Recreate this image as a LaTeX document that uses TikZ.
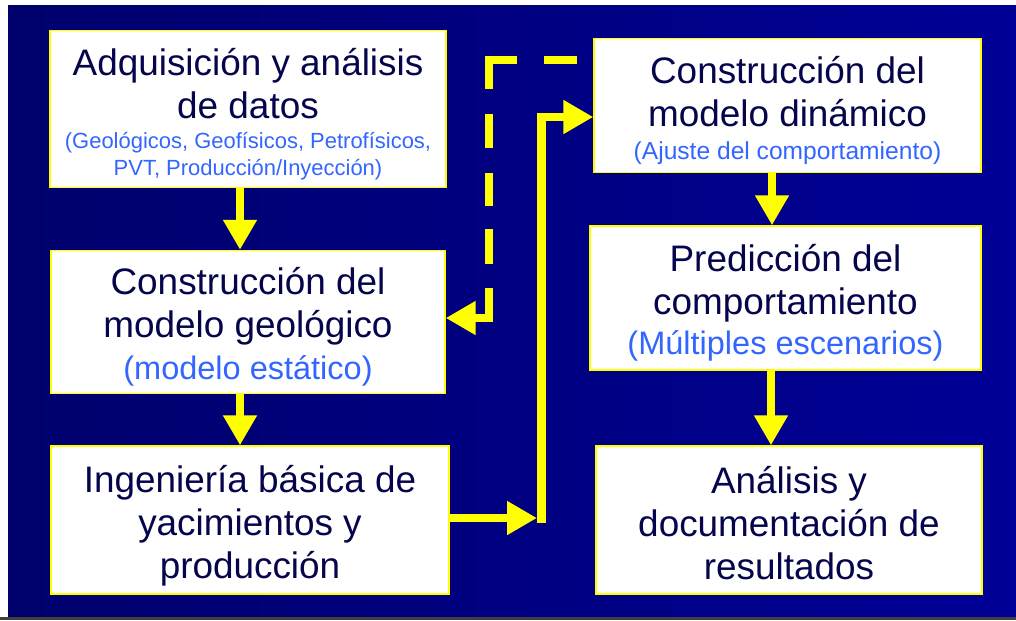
\documentclass[tikz,border=0pt]{standalone}
\usepackage{fontspec}
\setmainfont{Liberation Sans}
\usetikzlibrary{arrows.meta,calc}

\definecolor{navybg}{RGB}{0,0,108}
\definecolor{bluebg}{RGB}{0,0,150}
\definecolor{boxtext}{RGB}{5,5,75}
\definecolor{subblue}{RGB}{51,102,255}
\definecolor{linkyellow}{RGB}{255,255,0}

\newcommand{\subsmall}{\color{subblue}\fontsize{12.5pt}{15pt}\selectfont}
\newcommand{\submid}{\color{subblue}\fontsize{14pt}{17pt}\selectfont}
\newcommand{\subbig}{\color{subblue}\fontsize{18.5pt}{22pt}\selectfont}

\begin{document}
\begin{tikzpicture}[x=0.02cm, y=-0.02cm,
  stagebox/.style={draw=linkyellow, line width=0.85pt, fill=white, inner sep=0pt},
  stagetext/.style={text=boxtext, align=center, inner sep=0pt,
    font=\fontsize{21pt}{24.5pt}\selectfont},
  flow/.style={draw=linkyellow, line width=5.1pt,
    -{Triangle[width=18.2pt,length=17pt]}},
]

  % --- page and slide background ---
  \fill[white] (0,0) rectangle (1016,620);
  \useasboundingbox (0,0) rectangle (1016,620);
  \shade[left color=navybg, right color=bluebg] (8,5) rectangle (1016,617);
  \fill[black!75] (0,617) rectangle (1016,620);

  % --- left column ---
  \node[stagebox, minimum width=7.92cm, minimum height=3.14cm] (adq) at (248,109) {};
  \node[stagetext] (adqtxt) at ($(adq)+(0,5)$)
    {Adquisición y análisis\\de datos\\[-7.5pt]
     {\subsmall (Geológicos, Geofísicos, Petrofísicos,}\\[-9pt]
     {\subsmall PVT, Producción/Inyección)}};
  \node[stagebox, minimum width=7.88cm, minimum height=2.86cm] (geo) at (248,322) {};
  \node[stagetext] (geotxt) at ($(geo)+(0,5)$)
    {Construcción del\\modelo geológico\\[-0.6pt]{\subbig (modelo estático)}};
  \node[stagebox, minimum width=7.96cm, minimum height=2.96cm] (ing) at (250,520) {};
  \node[stagetext] (ingtxt) at ($(ing)+(0,6)$)
    {Ingeniería básica de\\yacimientos y\\producción};

  % --- right column ---
  \node[stagebox, minimum width=7.74cm, minimum height=2.68cm] (dyn) at (787.5,105.5) {};
  \node[stagetext] (dyntxt) at ($(dyn)+(0,5)$)
    {Construcción del\\modelo dinámico\\[-5.7pt]{\submid (Ajuste del comportamiento)}};
  \node[stagebox, minimum width=7.82cm, minimum height=2.88cm] (pred) at (785.5,298) {};
  \node[stagetext] (predtxt) at ($(pred)+(0,5)$)
    {Predicción del\\comportamiento\\[-1.7pt]{\subbig (Múltiples escenarios)}};
  \node[stagebox, minimum width=7.72cm, minimum height=2.96cm] (anal) at (789,520) {};
  \node[stagetext] (analtxt) at ($(anal)+(0,3)$)
    {Análisis y\\documentación de\\resultados};

  % --- straight links ---
  \draw[flow] ($(adq.south)+(-8,0)$) -- ($(geo.north)+(-8,0)$);
  \draw[flow] ($(geo.south)+(-8,0)$) -- ($(ing.north)+(-10,0)$);
  \draw[flow] ($(dyn.south)+(-15.5,0)$) -- ($(pred.north)+(-13.5,0)$);
  \draw[flow] ($(pred.south)+(-14.5,0)$) -- ($(anal.north)+(-18,0)$);

  % --- link to the dynamic model ---
  \coordinate (elbow) at (541.5,518);
  \draw[flow] ($(ing.east)+(0,-2)$) -- ($(elbow)+(-4.5,0)$);
  \draw[flow] ($(elbow)+(0,4.5)$) |- ($(dyn.west)+(0,11.5)$);

  % --- feedback (dashed) ---
  \coordinate (fbstart) at ($(dyn.west)+(-16,-45.5)$);
  \coordinate (fbturn) at (489,318);
  \draw[flow, dash pattern=on 18.8pt off 15.4pt on 32.4pt off 14.2pt on 19.3pt
    off 14.2pt on 18.8pt off 13.1pt on 19.9pt off 13.7pt on 40pt]
    (fbstart) -| (fbturn) -- (fbturn -| geo.east);

\end{tikzpicture}
\end{document}
